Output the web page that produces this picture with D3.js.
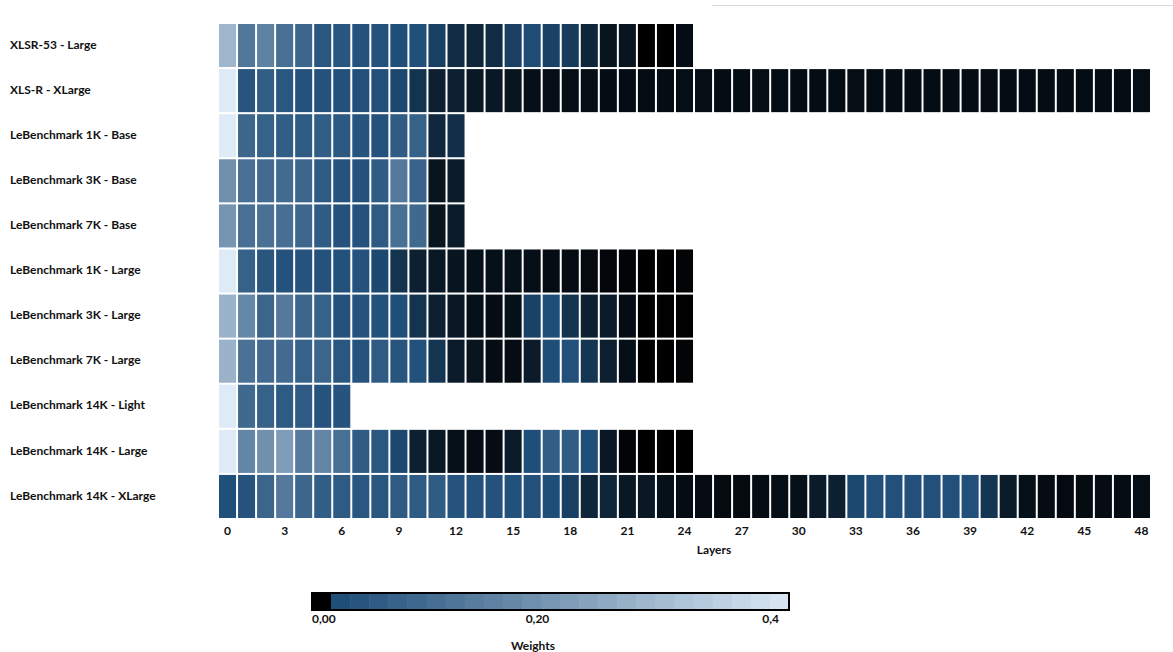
<!DOCTYPE html>
<html><head><meta charset="utf-8">
<script src="https://cdn.jsdelivr.net/npm/d3@7"></script>
<style>body{margin:0;background:#fff}svg{display:block}text{font-family:Lato,"Open Sans",sans-serif;font-weight:bold;fill:#111}</style>
</head><body>
<script>
const models = ["XLSR-53 - Large","XLS-R - XLarge","LeBenchmark 1K - Base","LeBenchmark 3K - Base","LeBenchmark 7K - Base","LeBenchmark 1K - Large","LeBenchmark 3K - Large","LeBenchmark 7K - Large","LeBenchmark 14K - Light","LeBenchmark 14K - Large","LeBenchmark 14K - XLarge"];
const layers = d3.range(0, 49);
const tickLayers = [0,3,6,9,12,15,18,21,24,27,30,33,36,39,42,45,48];
const wXLSR53 = [0.272,0.114,0.142,0.098,0.074,0.037,0.035,0.026,0.026,0.017,0.018,0.013,0.009,0.0075,0.009,0.013,0.0155,0.0135,0.012,0.0075,0.004,0.004,0,0,0.0025];
const wXLSR = [0.4,0.032,0.055,0.037,0.026,0.026,0.024,0.022,0.022,0.0145,0.0105,0.0065,0.0065,0.005,0.005,0.004,0.003,0.003,0.0028,0.0028,0.0027,0.0027,0.0026,0.0027,0.0028,0.0028,0.0026,0.0027,0.0028,0.0027,0.0026,0.0026,0.0027,0.0028,0.0027,0.0026,0.0026,0.0027,0.0027,0.0026,0.0025,0.0026,0.0027,0.0026,0.0025,0.0026,0.0027,0.0027,0.0028];
const w1KBase = [0.4,0.074,0.062,0.055,0.046,0.055,0.043,0.03,0.026,0.048,0.062,0.008,0.0095];
const w3KBase = [0.178,0.098,0.088,0.086,0.074,0.047,0.029,0.027,0.048,0.122,0.068,0.004,0.0055];
const w7KBase = [0.19,0.098,0.1,0.096,0.078,0.048,0.027,0.027,0.046,0.098,0.082,0.004,0.0055];
const w1KLarge = [0.4,0.062,0.035,0.026,0.028,0.026,0.023,0.026,0.015,0.0105,0.0065,0.005,0.004,0.0032,0.0032,0.0032,0.003,0.0025,0.0025,0.002,0.0015,0.001,0,0,0.0008];
const w3KLarge = [0.264,0.158,0.072,0.122,0.074,0.062,0.026,0.028,0.023,0.016,0.0105,0.0065,0.005,0.0032,0.0025,0.0032,0.0135,0.017,0.0105,0.0065,0.0055,0.0025,0,0.0003,0.0003];
const w7KLarge = [0.264,0.104,0.088,0.088,0.062,0.072,0.037,0.029,0.046,0.032,0.023,0.011,0.0055,0.004,0.0025,0.0025,0.0055,0.017,0.022,0.011,0.0065,0.003,0,0,0.0008];
const w14KLight = [0.4,0.082,0.062,0.047,0.046,0.028,0.03];
const w14KLarge = [0.4,0.154,0.178,0.21,0.126,0.15,0.098,0.048,0.037,0.0145,0.0065,0.005,0.0032,0.0025,0.0025,0.0055,0.017,0.055,0.052,0.017,0.005,0.001,0,0,0];
const w14KXLarge = [0.018,0.03,0.072,0.122,0.074,0.055,0.046,0.039,0.037,0.046,0.047,0.05,0.029,0.026,0.026,0.023,0.022,0.016,0.013,0.0075,0.0075,0.005,0.005,0.0032,0.0025,0.0025,0.002,0.002,0.0025,0.0028,0.0032,0.0055,0.0065,0.015,0.022,0.022,0.022,0.022,0.022,0.022,0.011,0.0055,0.0032,0.0025,0.002,0.0022,0.0025,0.0025,0.0028];
const weights = [wXLSR53,wXLSR,w1KBase,w3KBase,w7KBase,w1KLarge,w3KLarge,w7KLarge,w14KLight,w14KLarge,w14KXLarge];
const legendTicks = [0, 0.2, 0.4];
const legendLabels = ["0,00","0,20","0,4"];

const W = 1173, H = 652;
const svg = d3.select("body").append("svg").attr("width", W).attr("height", H);

svg.append("line").attr("x1",712).attr("x2",W).attr("y1",5.5).attr("y2",5.5).attr("stroke","#d9d9d9").attr("stroke-width",1);

const x = d3.scaleBand().domain(layers).range([219, 1150]).paddingInner(0.105).paddingOuter(0);
const y = d3.scaleBand().domain(models).range([24, 518]).paddingInner(0.045).paddingOuter(0);
const color = d3.scaleLinear().domain([0, 0.016, 0.4]).range(["#000000", "#1f4e79", "#deebf7"]).clamp(true);

const cells = [];
weights.forEach((arr, r) => arr.forEach((v, i) => cells.push({m: models[r], l: i, v})));
svg.append("g").selectAll("rect").data(cells).join("rect")
  .attr("x", d => x(d.l)).attr("y", d => y(d.m))
  .attr("width", x.bandwidth()).attr("height", y.bandwidth())
  .attr("fill", d => color(d.v));

// y labels
svg.append("g").selectAll("text").data(models).join("text")
  .attr("x", 10).attr("y", d => y(d) + y.bandwidth()/2 - 1).attr("dy", "0.35em")
  .style("font-size", "12px").text(d => d);

// x axis
const xAxis = d3.axisBottom(x).tickValues(tickLayers).tickSize(0).tickPadding(8);
const gx = svg.append("g").attr("transform", "translate(0,518)").call(xAxis);
gx.select(".domain").remove();
gx.selectAll("text").style("font-size", "12px").style("font-family", "Lato, sans-serif").style("font-weight", "bold").attr("fill", "#111");
svg.append("text").attr("x", 714).attr("y", 554).attr("text-anchor", "middle").style("font-size", "12px").text("Layers");

// legend
const lx0 = 312, lx1 = 789, ly = 593, lh = 17;
const nSeg = 25;
const segVals = d3.range(nSeg).map(i => i * 0.4 / nSeg);
const segW = (lx1 - lx0) / nSeg;
svg.append("g").selectAll("rect").data(segVals).join("rect")
  .attr("x", (d, i) => lx0 + i * segW).attr("y", ly).attr("width", segW + 0.5).attr("height", lh)
  .attr("fill", d => color(d));
svg.append("rect").attr("x", lx0).attr("y", ly).attr("width", lx1 - lx0).attr("height", lh)
  .attr("fill", "none").attr("stroke", "#000").attr("stroke-width", 2);
const lscale = d3.scaleLinear().domain([0, 0.4]).range([312, 779]);
const anchors = ["start", "middle", "end"];
svg.append("g").selectAll("text").data(legendTicks).join("text")
  .attr("x", (d, i) => i === 1 ? lscale(d) - 8 : lscale(d)).attr("y", 623)
  .attr("text-anchor", (d, i) => anchors[i]).style("font-size", "12px")
  .text((d, i) => legendLabels[i]);
svg.append("text").attr("x", 533).attr("y", 650).attr("text-anchor", "middle").style("font-size", "12px").text("Weights");
</script>
</body></html>
